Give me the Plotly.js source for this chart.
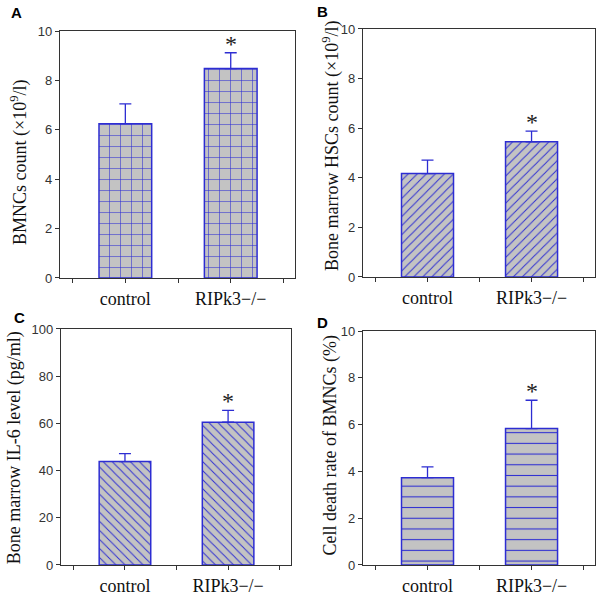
<!DOCTYPE html>
<html><head><meta charset="utf-8">
<script src="https://cdn.plot.ly/plotly-3.0.1.min.js"></script>
<style>html,body{margin:0;padding:0;background:#fff}</style>
</head><body>
<div id="chart" style="width:600px;height:599px"></div>
<script>
// ---- data ----
const groups = ['control', 'RIPk3\u2212/\u2212'];
const panelLetters = ['A', 'B', 'C', 'D'];
const yTitles = [
  'BMNCs count (\u00d710<sup>9</sup>/l)',
  'Bone marrow HSCs count (\u00d710<sup>9</sup>/l)',
  'Bone marrow IL-6 level (pg/ml)',
  'Cell death rate of BMNCs (%)'
];
const bmncCount = [6.25, 8.48];
const bmncErr = [0.80, 0.64];
const hscCount = [4.17, 5.45];
const hscErr = [0.54, 0.43];
const il6Level = [43.8, 60.5];
const il6Err = [3.4, 5.0];
const deathRate = [3.73, 5.83];
const deathErr = [0.46, 1.21];
const significance = ['', '*'];
const yMax = [10, 10, 100, 10];
const yStep = [2, 2, 20, 2];

// ---- styling ----
const values = [bmncCount, hscCount, il6Level, deathRate];
const errors = [bmncErr, hscErr, il6Err, deathErr];
const patterns = [
  {shape: '+', size: 11, solidity: 0.1},
  {shape: '/', size: 6.4, solidity: 0.15},
  {shape: '\\', size: 6.4, solidity: 0.15},
  {shape: '-', size: 10.7, solidity: 0.1}
];
const blue = '#2d2dd2';
const gray = '#c3c3c3';
const dom = {
  x: [[0.1, 0.4917], [0.605, 0.9917], [0.1017, 0.485], [0.605, 0.9917]],
  y: [[0.5359, 0.9482], [0.5376, 0.9516], [0.0568, 0.4508], [0.0568, 0.4474]]
};
const titlePos = [[0.0317, 0.7279], [0.5517, 0.7563], [0.0255, 0.2521], [0.5492, 0.2554]];
const letterPos = [[16, 12], [322, 11], [19, 317], [322, 322]];

const xIdx = groups.map((g, i) => i);
const traces = [];
const layout = {
  width: 600, height: 599,
  margin: {l: 0, r: 0, t: 0, b: 0},
  paper_bgcolor: '#fff', plot_bgcolor: '#fff',
  showlegend: false,
  annotations: []
};

for (let p = 0; p < 4; p++) {
  const sfx = p === 0 ? '' : String(p + 1);
  traces.push({
    type: 'bar',
    x: xIdx, y: values[p], width: 0.5,
    xaxis: 'x' + sfx, yaxis: 'y' + sfx,
    marker: {
      color: gray,
      line: {color: blue, width: 1.5},
      pattern: Object.assign({fgcolor: blue, bgcolor: gray, fillmode: 'replace'}, patterns[p])
    },
    error_y: {
      type: 'data', symmetric: false,
      array: errors[p], arrayminus: errors[p].map(() => 0),
      color: blue, thickness: 1.3, width: 6
    },
    hoverinfo: 'skip'
  });
  layout['xaxis' + sfx] = {
    domain: dom.x[p], range: [-0.62, 1.61], anchor: 'y' + sfx,
    tickmode: 'array',
    tickvals: xIdx,
    ticktext: groups,
    ticks: 'outside', ticklen: 4, tickcolor: '#333', tickwidth: 1,
    minor: {tickmode: 'array', tickvals: [-0.5, 0.5, 1.5], ticks: 'outside', ticklen: 4, tickcolor: '#333', tickwidth: 1, showgrid: false},
    showline: true, mirror: true, linecolor: '#333', linewidth: 1.2,
    showgrid: false, zeroline: false,
    tickfont: {family: 'Liberation Serif', size: 18, color: '#111'}
  };
  layout['yaxis' + sfx] = {
    domain: dom.y[p], range: [0, yMax[p]], anchor: 'x' + sfx,
    dtick: yStep[p], tick0: 0,
    ticks: 'outside', ticklen: 4, tickcolor: '#333', tickwidth: 1,
    showline: true, mirror: true, linecolor: '#333', linewidth: 1.2,
    showgrid: false, zeroline: false,
    tickfont: {family: 'Liberation Sans', size: 13, color: '#333'}
  };
  // y axis title
  layout.annotations.push({
    xref: 'paper', yref: 'paper', x: titlePos[p][0], y: titlePos[p][1],
    xanchor: 'center', yanchor: 'middle', textangle: -90, showarrow: false,
    text: yTitles[p],
    font: {family: 'Liberation Serif', size: 18, color: '#111'}
  });
  // panel letter
  layout.annotations.push({
    xref: 'paper', yref: 'paper', x: letterPos[p][0] / 600, y: 1 - letterPos[p][1] / 599,
    xanchor: 'center', yanchor: 'middle', showarrow: false,
    text: '<b>' + panelLetters[p] + '</b>',
    font: {family: 'Liberation Sans', size: 15, color: '#000'}
  });
  // significance marks
  significance.forEach((s, i) => {
    if (!s) return;
    layout.annotations.push({
      xref: 'x' + sfx, yref: 'y' + sfx, x: xIdx[i], y: values[p][i] + errors[p][i],
      xanchor: 'center', yanchor: 'bottom', yshift: -6, showarrow: false,
      text: s,
      font: {family: 'Liberation Serif', size: 24, color: '#222'}
    });
  });
}

Plotly.newPlot('chart', traces, layout, {staticPlot: true});
</script>
</body></html>
